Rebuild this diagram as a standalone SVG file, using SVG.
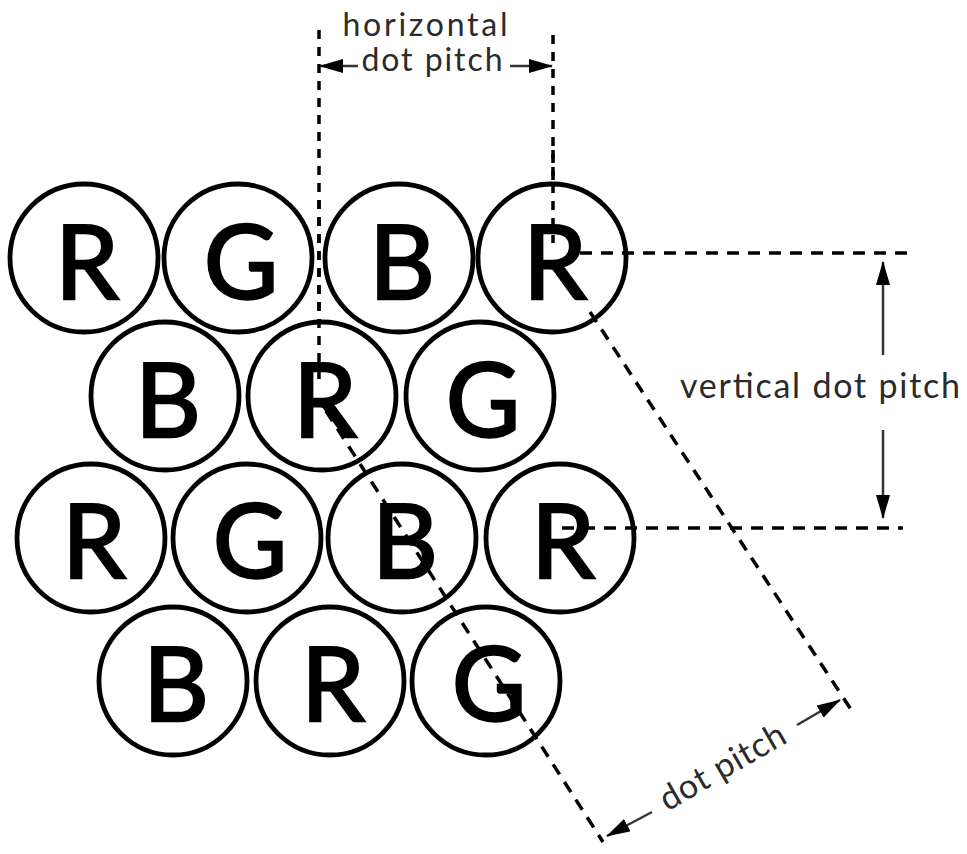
<svg xmlns="http://www.w3.org/2000/svg" width="967" height="854" viewBox="0 0 967 854">
<style>
  .dot circle { fill: #fff; stroke: #000; stroke-width: 4.8; }
  .dot text { font-family: Lato, "Liberation Sans", sans-serif; font-size: 102px; fill: #000; stroke: #000; stroke-width: 2.4; text-anchor: middle; }
  .dash { fill: none; stroke: #000; stroke-width: 3.5; stroke-dasharray: 12 9; }
  .vdash { fill: none; stroke: #000; stroke-width: 3.5; stroke-dasharray: 9 8; }
  .arrow { fill: none; stroke: #333; stroke-width: 2.5; marker-end: url(#head); }
  .label { font-family: Lato, "Liberation Sans", sans-serif; font-size: 34px; fill: #2b2b2b; }
  .hlabel { font-size: 32px; }
</style>
<defs>
  <marker id="head" markerUnits="userSpaceOnUse" markerWidth="24" markerHeight="16" refX="23" refY="7" orient="auto">
    <path d="M0,0 L24,7 L0,14 Z" fill="#000"/>
  </marker>
</defs>
<rect width="967" height="854" fill="#fff"/>

<g id="connectors-back">
  <line class="vdash" x1="319" y1="30" x2="319" y2="382"/>
  <line class="vdash" x1="553" y1="35" x2="553" y2="243"/>
</g>

<g id="dots">
  <g id="r1c1" class="dot"><circle cx="84" cy="258" r="74"/><text x="87" y="299">R</text></g>
  <g id="r1c2" class="dot"><circle cx="238" cy="258" r="74"/><text x="241" y="299">G</text></g>
  <g id="r1c3" class="dot"><circle cx="399" cy="258" r="74"/><text x="402" y="299">B</text></g>
  <g id="r1c4" class="dot"><circle cx="552" cy="258" r="74"/><text x="555" y="299">R</text></g>
  <g id="r2c1" class="dot"><circle cx="165" cy="396" r="74"/><text x="168" y="437">B</text></g>
  <g id="r2c2" class="dot"><circle cx="322" cy="396" r="74"/><text x="325" y="437">R</text></g>
  <g id="r2c3" class="dot"><circle cx="480" cy="396" r="74"/><text x="483" y="437">G</text></g>
  <g id="r3c1" class="dot"><circle cx="91" cy="538" r="74"/><text x="94" y="578">R</text></g>
  <g id="r3c2" class="dot"><circle cx="247" cy="538" r="74"/><text x="250" y="578">G</text></g>
  <g id="r3c3" class="dot"><circle cx="402" cy="538" r="74"/><text x="405" y="578">B</text></g>
  <g id="r3c4" class="dot"><circle cx="560" cy="538" r="74"/><text x="563" y="578">R</text></g>
  <g id="r4c1" class="dot"><circle cx="173" cy="681" r="74"/><text x="176" y="721">B</text></g>
  <g id="r4c2" class="dot"><circle cx="330" cy="681" r="74"/><text x="333" y="721">R</text></g>
  <g id="r4c3" class="dot"><circle cx="486" cy="681" r="74"/><text x="489" y="721">G</text></g>
</g>

<g id="connectors">
  <line class="vdash" x1="319" y1="200" x2="319" y2="382"/>
  <line class="vdash" x1="553" y1="150" x2="553" y2="243"/>
  <line class="dash" x1="580" y1="253" x2="908" y2="253"/>
  <line class="dash" x1="562" y1="528" x2="903" y2="528"/>
  <line class="dash" x1="590" y1="312" x2="852" y2="711"/>
  <line class="dash" x1="326" y1="411" x2="603" y2="842"/>
  <line class="arrow" x1="358" y1="66" x2="320" y2="66"/>
  <line class="arrow" x1="510" y1="66" x2="552" y2="66"/>
  <line class="arrow" x1="883" y1="355" x2="883" y2="262"/>
  <line class="arrow" x1="883" y1="430" x2="883" y2="518"/>
  <line class="arrow" x1="652" y1="812" x2="607" y2="836"/>
  <line class="arrow" x1="797" y1="725" x2="840" y2="700"/>
</g>

<g id="labels">
  <text class="label hlabel" x="425" y="36" text-anchor="middle" textLength="165">horizontal</text>
  <text class="label hlabel" x="432" y="71" text-anchor="middle" textLength="141">dot pitch</text>
  <text class="label" x="680" y="398" textLength="280">vertical dot pitch</text>
  <g transform="translate(723,768) rotate(-30)">
    <text class="label" x="0" y="10" text-anchor="middle" textLength="140">dot pitch</text>
  </g>
</g>
</svg>
